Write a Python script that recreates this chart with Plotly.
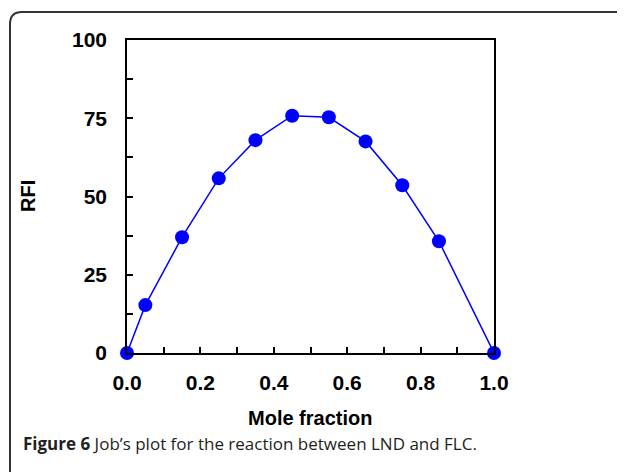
import plotly.graph_objects as go

mole_fraction = [0.0, 0.05, 0.15, 0.25, 0.35, 0.45, 0.55, 0.65, 0.75, 0.85, 1.0]
rfi = [0.0, 15.3, 37.0, 55.8, 68.0, 75.8, 75.3, 67.6, 53.6, 35.7, 0.0]

x_tickvals = [0.0, 0.1, 0.2, 0.3, 0.4, 0.5, 0.6, 0.7, 0.8, 0.9, 1.0]
x_ticktext = ["0.0", "", "0.2", "", "0.4", "", "0.6", "", "0.8", "", "1.0"]
y_tickvals = [0, 12.5, 25, 37.5, 50, 62.5, 75, 87.5, 100]
y_ticktext = ["0", "", "25", "", "50", "", "75", "", "100"]

# page body has an 8px default margin; work in page coordinates and shift
OFF = 8
W, H = 625 - OFF, 472 - OFF
L, R, T, B = 127 - OFF, 131, 40 - OFF, 119
pw, ph = W - L - R, H - T - B

def px(x):
    return (x - OFF - L) / pw

def py(y):
    return (H - B - (y - OFF)) / ph

fig = go.Figure()
fig.add_trace(go.Scatter(
    x=mole_fraction, y=rfi, mode="lines+markers",
    line=dict(color="#0000ff", width=1.5),
    marker=dict(color="#0000ff", size=14),
    cliponaxis=False, showlegend=False,
))

tick_font = dict(family="Liberation Sans, Arial, sans-serif", size=21, color="#000000", weight="bold")
fig.update_xaxes(
    range=[0, 1], tickvals=x_tickvals, ticktext=x_ticktext,
    ticks="inside", ticklen=6, tickwidth=1.5, tickcolor="#000",
    showline=True, linecolor="#000", linewidth=1.5, mirror=True,
    showgrid=False, zeroline=False,
    tickfont=tick_font, ticklabelstandoff=10,
)
fig.update_yaxes(
    range=[0, 100], tickvals=y_tickvals, ticktext=y_ticktext,
    ticks="inside", ticklen=6, tickwidth=1.5, tickcolor="#000",
    showline=True, linecolor="#000", linewidth=1.5, mirror=True,
    showgrid=False, zeroline=False,
    tickfont=tick_font, ticklabelstandoff=14,
)

# outer rounded frame
x0, y0, x1, y1, r = 10, 480, 640, 12, 12
path = (f"M {px(x0)},{py(y0)} L {px(x0)},{py(y1 + r)} "
        f"Q {px(x0)},{py(y1)} {px(x0 + r)},{py(y1)} L {px(x1)},{py(y1)}")
fig.add_shape(type="path", path=path, xref="paper", yref="paper",
              line=dict(color="#333333", width=2))

fig.add_annotation(x=px(310), y=py(418), xref="paper", yref="paper",
                   xanchor="center", yanchor="middle",
                   text="<b>Mole fraction</b>", showarrow=False,
                   font=dict(family="Liberation Sans, Arial, sans-serif", size=20, color="#000"))
fig.add_annotation(x=px(28), y=py(196), xref="paper", yref="paper",
                   xanchor="center", yanchor="middle",
                   text="<b>RFI</b>", showarrow=False, textangle=-90,
                   font=dict(family="Liberation Sans, Arial, sans-serif", size=20, color="#000"))
fig.add_annotation(x=px(21), y=py(443), xref="paper", yref="paper",
                   xanchor="left", yanchor="middle",
                   text="<b>Figure 6</b> Job’s plot for the reaction between LND and FLC.",
                   showarrow=False,
                   font=dict(family="Open Sans, sans-serif", size=17, color="#231f20"))

fig.update_layout(
    width=W, height=H, margin=dict(l=L, r=R, t=T, b=B),
    paper_bgcolor="#ffffff", plot_bgcolor="#ffffff",
)
fig.write_html("out.html")
